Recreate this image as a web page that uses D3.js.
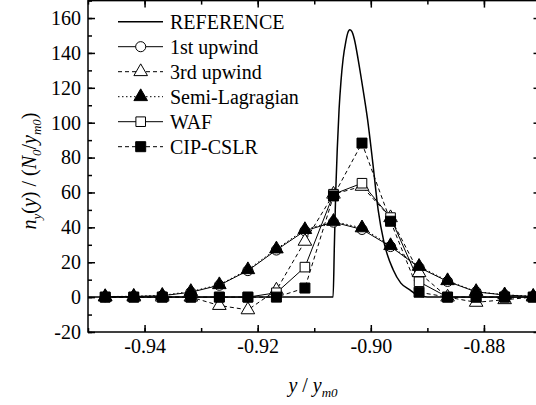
<!DOCTYPE html>
<html>
<head>
<meta charset="utf-8">
<script src="https://cdn.jsdelivr.net/npm/d3@7"></script>
<style>
  body { margin: 0; background: #fff; }
  svg, svg text { font-family: "Liberation Serif", "Times New Roman", serif; }
  svg { display: block; }
</style>
</head>
<body>
<div id="chart"></div>
<script>
// grid points of the numerical schemes (y / y_m0)
var gridX = [-0.94696, -0.94191, -0.93687, -0.93182, -0.92678, -0.92173, -0.91669, -0.91165,
             -0.90660, -0.90156, -0.89651, -0.89147, -0.88643, -0.88138, -0.87634, -0.87129];

var upwind1 = [0.2, 0.4, 0.8, 2.8, 6.8, 15.2, 27.0, 38.0, 43.0, 38.8, 29.0, 17.0, 9.0, 3.0, 1.2, 0.4];
var upwind3 = [0, 0, 0, 0, -4.8, -7.3, 4.0, 32.0, 59.0, 63.5, 45.5, 14.0, 0, -3.0, -1.5, 0];
var semiLag = [0.3, 0.5, 1.0, 3.2, 7.1, 15.7, 27.6, 38.7, 43.4, 39.7, 29.5, 17.6, 9.4, 3.2, 1.3, 0.5];
var waf     = [0, 0, 0, 0, 0, 0, 2.5, 17.2, 59.0, 65.3, 45.6, 8.8, 0, 0, 0, 0];
var cipCslr = [0, 0, 0, 0, 0, 0, 0, 5.2, 58.0, 88.3, 43.5, 2.8, 0, 0, 0, 0];

// reference (exact) solution
var refX = [-0.9500, -0.90667, -0.90644, -0.90619, -0.90593, -0.90561, -0.90527, -0.90490,
            -0.90442, -0.90407, -0.90372, -0.90336, -0.90292, -0.90225, -0.90142, -0.90058,
            -0.89965, -0.89871, -0.89765, -0.89605, -0.89469, -0.89310, -0.89133, -0.88867, -0.8700];
var refY = [0, 0, 30, 61.7, 85, 107.7, 124, 136.5,
            146.5, 151.5, 153.3, 152.3, 148, 136.5, 120, 102,
            77, 50.2, 31.1, 15.7, 8, 4.2, 0.5, 0, 0];

var xTicks = [-0.94, -0.92, -0.90, -0.88];
var yTicks = [-20, 0, 20, 40, 60, 80, 100, 120, 140, 160];

var W = 536, H = 405;
var FONT = "Liberation Serif, Times New Roman, serif";
var svg = d3.select("#chart").append("svg").attr("width", W).attr("height", H);

var x = d3.scaleLinear().domain([-0.95, -0.87]).range([88, 540.5]);
var y = d3.scaleLinear().domain([-20, 170]).range([332, 0.6]);

svg.append("defs").append("clipPath").attr("id", "clip")
    .append("rect").attr("x", x.range()[0]).attr("y", y.range()[1])
    .attr("width", x.range()[1] - x.range()[0]).attr("height", y.range()[0] - y.range()[1]);

var plot = svg.append("g").attr("clip-path", "url(#clip)");

var series = [
    {name: "1st upwind", values: upwind1, dash: null, symbol: d3.symbolCircle, size: 80, fill: "#fff"},
    {name: "3rd upwind", values: upwind3, dash: "4,3", symbol: d3.symbolTriangle, size: 80, fill: "#fff"},
    {name: "Semi-Lagragian", values: semiLag, dash: "1.5,2.5", symbol: d3.symbolTriangle, size: 80, fill: "#000"},
    {name: "WAF", values: waf, dash: null, symbol: d3.symbolSquare, size: 92, fill: "#fff"},
    {name: "CIP-CSLR", values: cipCslr, dash: "4,3", symbol: d3.symbolSquare, size: 100, fill: "#000"}
];

var line = d3.line().x(function (d) { return x(d[0]); }).y(function (d) { return y(d[1]); });

// reference curve
plot.append("path")
    .datum(d3.zip(refX, refY))
    .attr("d", line.curve(d3.curveMonotoneX))
    .attr("fill", "none").attr("stroke", "#000").attr("stroke-width", 1.5);

line.curve(d3.curveLinear);

series.forEach(function (s) {
    var pts = d3.zip(gridX, s.values);
    plot.append("path").datum(pts).attr("d", line)
        .attr("fill", "none").attr("stroke", "#000").attr("stroke-width", 1)
        .attr("stroke-dasharray", s.dash);
});

series.forEach(function (s) {
    var pts = d3.zip(gridX, s.values);
    plot.selectAll(null).data(pts).enter().append("path")
        .attr("transform", function (d) { return "translate(" + x(d[0]) + "," + y(d[1]) + ")"; })
        .attr("d", d3.symbol().type(s.symbol).size(s.size))
        .attr("fill", s.fill).attr("stroke", "#000").attr("stroke-width", 1);
});

// frame with inward ticks on all four sides
function axisStyle(g) {
    g.attr("font-family", FONT).attr("font-size", 20);
    g.select(".domain").remove();
    g.selectAll("line").attr("stroke", "#000").attr("stroke-width", 1.5);
    g.selectAll("text").attr("fill", "#000");
}

// plain hyphen for negative numbers, as in the original
var fmtX = function (d) { return d3.format(".2f")(d).replace("\u2212", "-"); };
var fmtY = function (d) { return d3.format("d")(d).replace("\u2212", "-"); };

var minorX = d3.range(-0.95, -0.869, 0.01);
var minorY = d3.range(-20, 171, 10);

svg.append("g").attr("transform", "translate(0," + y.range()[0] + ")")
    .call(d3.axisBottom(x).tickValues(minorX).tickSize(-4).tickFormat(""))
    .call(axisStyle);
svg.append("g").attr("transform", "translate(0," + y.range()[0] + ")")
    .call(d3.axisBottom(x).tickValues(xTicks).tickSize(-7).tickPadding(7).tickFormat(fmtX))
    .call(axisStyle);
svg.append("g").attr("transform", "translate(0," + y.range()[1] + ")")
    .call(d3.axisTop(x).tickValues(minorX).tickSize(-4).tickFormat(""))
    .call(axisStyle);
svg.append("g").attr("transform", "translate(0," + y.range()[1] + ")")
    .call(d3.axisTop(x).tickValues(xTicks).tickSize(-7).tickFormat(""))
    .call(axisStyle);

svg.append("g").attr("transform", "translate(" + x.range()[0] + ",0)")
    .call(d3.axisLeft(y).tickValues(minorY).tickSize(-4).tickFormat(""))
    .call(axisStyle);
svg.append("g").attr("transform", "translate(" + x.range()[0] + ",0)")
    .call(d3.axisLeft(y).tickValues(yTicks).tickSize(-7).tickPadding(7).tickFormat(fmtY))
    .call(axisStyle);
svg.append("g").attr("transform", "translate(" + x.range()[1] + ",0)")
    .call(d3.axisRight(y).tickValues(minorY).tickSize(-4).tickFormat(""))
    .call(axisStyle);
svg.append("g").attr("transform", "translate(" + x.range()[1] + ",0)")
    .call(d3.axisRight(y).tickValues(yTicks).tickSize(-7).tickFormat(""))
    .call(axisStyle);

svg.append("rect")
    .attr("x", x.range()[0]).attr("y", y.range()[1])
    .attr("width", x.range()[1] - x.range()[0]).attr("height", y.range()[0] - y.range()[1])
    .attr("fill", "none").attr("stroke", "#000").attr("stroke-width", 1.5);

// axis titles
var xt = svg.append("text").attr("x", 313).attr("y", 392)
    .attr("text-anchor", "middle").attr("font-size", "20px");
xt.append("tspan").attr("font-style", "italic").text("y");
xt.append("tspan").text(" / ");
xt.append("tspan").attr("font-style", "italic").text("y");
xt.append("tspan").attr("font-style", "italic").attr("font-size", "13px").attr("dy", 5).text("m0");

var yt = svg.append("text").attr("transform", "translate(36,171) rotate(-90)")
    .attr("text-anchor", "middle").attr("font-size", "20px");
yt.append("tspan").attr("font-style", "italic").text("n");
yt.append("tspan").attr("font-style", "italic").attr("font-size", "13px").attr("dy", 5).text("y");
yt.append("tspan").attr("dy", -5).text("(");
yt.append("tspan").attr("font-style", "italic").text("y");
yt.append("tspan").text(") / (");
yt.append("tspan").attr("font-style", "italic").text("N");
yt.append("tspan").attr("font-style", "italic").attr("font-size", "13px").attr("dy", 5).text("0");
yt.append("tspan").attr("dy", -5).text("/");
yt.append("tspan").attr("font-style", "italic").text("y");
yt.append("tspan").attr("font-style", "italic").attr("font-size", "13px").attr("dy", 5).text("m0");
yt.append("tspan").attr("dy", -5).text(")");

// legend
var legend = svg.append("g");
var legendItems = [{name: "REFERENCE", dash: null, symbol: null}].concat(series);
legendItems.forEach(function (s, i) {
    var ly = 21.7 + i * 25;
    var g = legend.append("g").attr("transform", "translate(0," + ly + ")");
    g.append("line").attr("x1", 118).attr("x2", 163).attr("y1", 0).attr("y2", 0)
        .attr("stroke", "#000").attr("stroke-width", s.symbol ? 1 : 1.5)
        .attr("stroke-dasharray", s.dash);
    if (s.symbol) {
        g.append("path").attr("transform", "translate(140.7,0)")
            .attr("d", d3.symbol().type(s.symbol).size(s.size))
            .attr("fill", s.fill).attr("stroke", "#000");
    }
    g.append("text").attr("x", 170).attr("y", 7).attr("font-size", "20px").text(s.name);
});
</script>
</body>
</html>
